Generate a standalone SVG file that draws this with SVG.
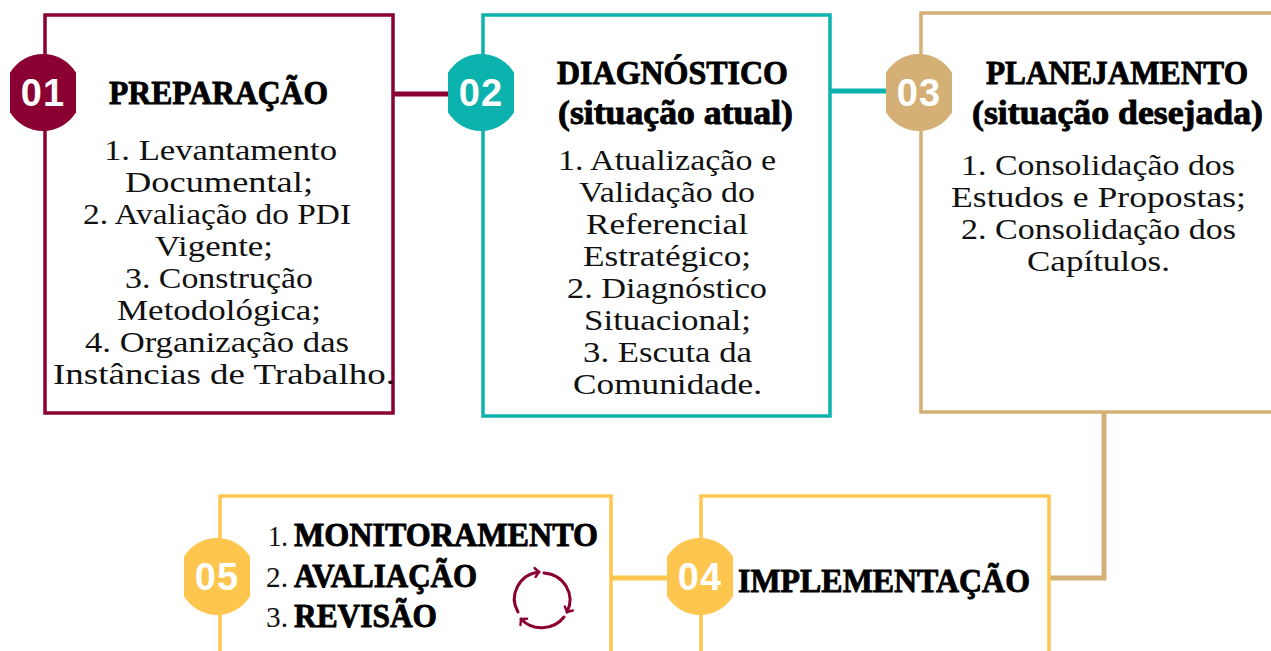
<svg xmlns="http://www.w3.org/2000/svg" width="1271" height="651" viewBox="0 0 1271 651">
<style>
.box{fill:#fff;stroke-width:3.5}
.b{font:400 30px "Liberation Serif",serif;fill:#111;text-anchor:start}
.t{font:700 34px "Liberation Serif",serif;fill:#000;stroke:#000;stroke-width:.9;text-anchor:start}
.n{font:700 38px "Liberation Sans",sans-serif;fill:#fff;text-anchor:middle;letter-spacing:1px}
.m{stroke:#8b0033}.g{stroke:#0cb2ad}.s{stroke:#d4b077}.y{stroke:#fec64f}
.conn{fill:none;stroke-width:5}
.ic{fill:none;stroke:#8b0033;stroke-width:3;stroke-linecap:round;marker-end:url(#chev)}
</style>
<defs>
<path id="badge" d="M-33-19.8A38.5 38.5 0 0 1 33-19.8V19.8A38.5 38.5 0 0 1-33 19.8Z"/>
<marker id="chev" viewBox="-6 -6 8 12" markerWidth="8" markerHeight="12" markerUnits="userSpaceOnUse" refX="0" refY="0" orient="auto">
<path d="M-4-4.5L0 0L-4 4.5" fill="none" stroke="#8b0033" stroke-width="2.4" stroke-linecap="round"/>
</marker>
</defs>
<rect width="1271" height="651" fill="#fff"/>
<g id="connectors">
<path class="conn m" d="M393 94H450"/>
<path class="conn g" d="M830 91H888"/>
<path class="conn s" d="M1104 412V578H1050"/>
<path class="conn y" d="M611 578H668"/>
</g>
<g id="node-01">
<rect class="box m" x="45" y="15" width="348" height="398"/>
<use href="#badge" x="43" y="92.5" fill="#8b0033"/>
<text class="n" x="43" y="106">01</text>
<text class="t" x="109" y="104" textLength="219" lengthAdjust="spacingAndGlyphs">PREPARAÇÃO</text>
<text class="b" x="104" y="160" textLength="233" lengthAdjust="spacingAndGlyphs">1. Levantamento</text>
<text class="b" x="125" y="192" textLength="188" lengthAdjust="spacingAndGlyphs">Documental;</text>
<text class="b" x="83" y="224" textLength="268" lengthAdjust="spacingAndGlyphs">2. Avaliação do PDI</text>
<text class="b" x="155" y="256" textLength="118" lengthAdjust="spacingAndGlyphs">Vigente;</text>
<text class="b" x="125" y="288" textLength="188" lengthAdjust="spacingAndGlyphs">3. Construção</text>
<text class="b" x="117" y="320" textLength="204" lengthAdjust="spacingAndGlyphs">Metodológica;</text>
<text class="b" x="85" y="352" textLength="264" lengthAdjust="spacingAndGlyphs">4. Organização das</text>
<text class="b" x="53" y="384" textLength="342" lengthAdjust="spacingAndGlyphs">Instâncias de Trabalho.</text>
</g>
<g id="node-02">
<rect class="box g" x="483" y="15" width="347" height="401"/>
<use href="#badge" x="481" y="92.5" fill="#0cb2ad"/>
<text class="n" x="481" y="106">02</text>
<text class="t" x="557" y="84" textLength="231" lengthAdjust="spacingAndGlyphs">DIAGNÓSTICO</text>
<text class="t" x="558" y="124" textLength="235" lengthAdjust="spacingAndGlyphs">(situação atual)</text>
<text class="b" x="558" y="170" textLength="218" lengthAdjust="spacingAndGlyphs">1. Atualização e</text>
<text class="b" x="579" y="202" textLength="176" lengthAdjust="spacingAndGlyphs">Validação do</text>
<text class="b" x="586" y="234" textLength="162" lengthAdjust="spacingAndGlyphs">Referencial</text>
<text class="b" x="583" y="266" textLength="168" lengthAdjust="spacingAndGlyphs">Estratégico;</text>
<text class="b" x="567" y="298" textLength="200" lengthAdjust="spacingAndGlyphs">2. Diagnóstico</text>
<text class="b" x="584" y="330" textLength="167" lengthAdjust="spacingAndGlyphs">Situacional;</text>
<text class="b" x="583" y="362" textLength="169" lengthAdjust="spacingAndGlyphs">3. Escuta da</text>
<text class="b" x="573" y="394" textLength="189" lengthAdjust="spacingAndGlyphs">Comunidade.</text>
</g>
<g id="node-03">
<rect class="box s" x="921" y="13" width="360" height="399"/>
<use href="#badge" x="919" y="92.5" fill="#d4b077"/>
<text class="n" x="919" y="106">03</text>
<text class="t" x="986" y="84" textLength="262" lengthAdjust="spacingAndGlyphs">PLANEJAMENTO</text>
<text class="t" x="972" y="124" textLength="291" lengthAdjust="spacingAndGlyphs">(situação desejada)</text>
<text class="b" x="961" y="175" textLength="274" lengthAdjust="spacingAndGlyphs">1. Consolidação dos</text>
<text class="b" x="951" y="207" textLength="295" lengthAdjust="spacingAndGlyphs">Estudos e Propostas;</text>
<text class="b" x="961" y="239" textLength="275" lengthAdjust="spacingAndGlyphs">2. Consolidação dos</text>
<text class="b" x="1027" y="271" textLength="143" lengthAdjust="spacingAndGlyphs">Capítulos.</text>
</g>
<g id="node-04">
<rect class="box y" x="701" y="496" width="348" height="175"/>
<use href="#badge" x="700" y="576.5" fill="#fec64f"/>
<text class="n" x="700" y="590">04</text>
<text class="t" x="738" y="592" textLength="292" lengthAdjust="spacingAndGlyphs">IMPLEMENTAÇÃO</text>
</g>
<g id="node-05">
<rect class="box y" x="220" y="496" width="391" height="175"/>
<use href="#badge" x="217" y="576.5" fill="#fec64f"/>
<text class="n" x="217" y="590">05</text>
<text class="b" x="268" y="546" textLength="20" lengthAdjust="spacingAndGlyphs">1.</text>
<text class="t" x="294" y="546" textLength="304" lengthAdjust="spacingAndGlyphs">MONITORAMENTO</text>
<text class="b" x="266" y="587" textLength="22" lengthAdjust="spacingAndGlyphs">2.</text>
<text class="t" x="294" y="587" textLength="183" lengthAdjust="spacingAndGlyphs">AVALIAÇÃO</text>
<text class="b" x="266" y="627" textLength="22" lengthAdjust="spacingAndGlyphs">3.</text>
<text class="t" x="294" y="627" textLength="143" lengthAdjust="spacingAndGlyphs">REVISÃO</text>
<path class="ic" d="M518 612A28 27 0 0 1 539 572"/>
<path class="ic" d="M544 573A28 27 0 0 1 567 612"/>
<path class="ic" d="M564 617A28 27 0 0 1 521 619"/>
</g>
</svg>
